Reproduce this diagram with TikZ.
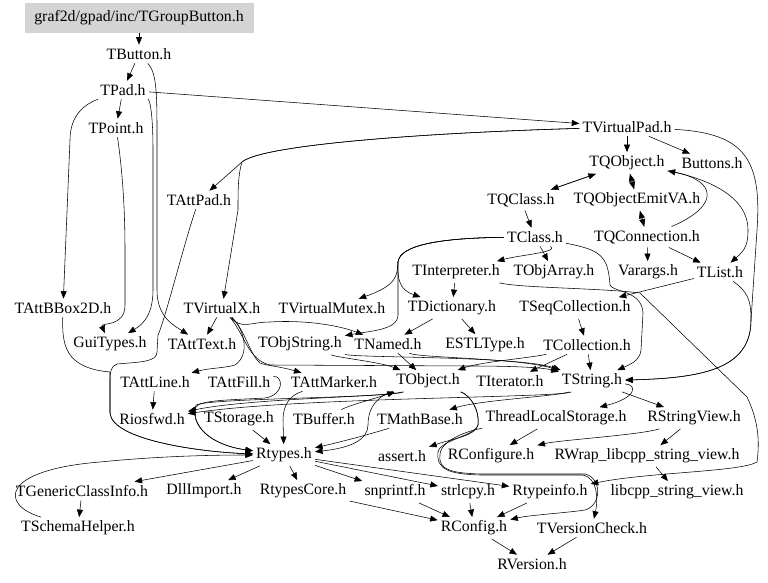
\documentclass[tikz,border=0pt]{standalone}
\usepackage{fontspec}
\setmainfont{Liberation Serif}
\usetikzlibrary{arrows.meta}
\begin{document}
\begin{tikzpicture}[x=1pt,y=-1pt,
  n/.style={inner xsep=3pt,inner ysep=3.5pt,font=\fontsize{15.8}{17}\selectfont},
  e/.style={draw,line width=0.55pt,-{Triangle[length=7.5pt,width=6pt]}}]
\useasboundingbox (0,0) rectangle (768,583);
% nodes
\node[n,fill=black!17,minimum width=229pt,minimum height=30pt,inner sep=0pt] (root) at (139,18) {graf2d/gpad/inc/TGroupButton.h};
\node[n] (tbutton) at (139,54) {TButton.h};
\node[n] (tpad) at (123,90) {TPad.h};
\node[n] (tpoint) at (116,128) {TPoint.h};
\node[n] (tvpad) at (627,127) {TVirtualPad.h};
\node[n] (tqobj) at (627,163) {TQObject.h};
\node[n] (buttons) at (712,163) {Buttons.h};
\node[n] (tattpad) at (199,200) {TAttPad.h};
\node[n] (tqclass) at (521,200) {TQClass.h};
\node[n] (tqemit) at (637,200) {TQObjectEmitVA.h};
\node[n] (tclass) at (535,237) {TClass.h};
\node[n] (tqconn) at (647,237) {TQConnection.h};
\node[n] (tinterp) at (456,272) {TInterpreter.h};
\node[n] (tobjarr) at (554,272) {TObjArray.h};
\node[n] (varargs) at (648,272) {Varargs.h};
\node[n] (tlist) at (720,272) {TList.h};
\node[n] (tattbbox) at (63,308) {TAttBBox2D.h};
\node[n] (tvx) at (222,308) {TVirtualX.h};
\node[n] (tvmutex) at (332,308) {TVirtualMutex.h};
\node[n] (tdict) at (452,308) {TDictionary.h};
\node[n] (tseqcoll) at (575,308) {TSeqCollection.h};
\node[n] (guitypes) at (110,344) {GuiTypes.h};
\node[n] (tatttext) at (202,344) {TAttText.h};
\node[n] (tobjstr) at (300,344) {TObjString.h};
\node[n] (tnamed) at (388,344) {TNamed.h};
\node[n] (estl) at (485,345) {ESTLType.h};
\node[n] (tcoll) at (587,345) {TCollection.h};
\node[n] (tattline) at (155,382) {TAttLine.h};
\node[n] (tattfill) at (239,382) {TAttFill.h};
\node[n] (tattmarker) at (334,382) {TAttMarker.h};
\node[n] (tobject) at (428,381) {TObject.h};
\node[n] (titer) at (510,381) {TIterator.h};
\node[n] (tstring) at (592,381) {TString.h};
\node[n] (riosfwd) at (152,419) {Riosfwd.h};
\node[n] (tstorage) at (239,419) {TStorage.h};
\node[n] (tbuffer) at (324,419) {TBuffer.h};
\node[n] (tmath) at (420,419) {TMathBase.h};
\node[n] (tls) at (556,418) {ThreadLocalStorage.h};
\node[n] (rsv) at (694,418) {RStringView.h};
\node[n] (rtypes) at (284,455) {Rtypes.h};
\node[n] (assert) at (402,456) {assert.h};
\node[n] (rconfigure) at (491,456) {RConfigure.h};
\node[n] (rwrap) at (647,456) {RWrap\_libcpp\_string\_view.h};
\node[n] (tgci) at (82,491) {TGenericClassInfo.h};
\node[n] (dllimport) at (204,491) {DllImport.h};
\node[n] (rtypescore) at (303,491) {RtypesCore.h};
\node[n] (snprintf) at (395,492) {snprintf.h};
\node[n] (strlcpy) at (468,492) {strlcpy.h};
\node[n] (rtypeinfo) at (550,492) {Rtypeinfo.h};
\node[n] (libcpp) at (677,492) {libcpp\_string\_view.h};
\node[n] (tschema) at (78,528) {TSchemaHelper.h};
\node[n] (rconfig) at (474,528) {RConfig.h};
\node[n] (tvcheck) at (592,528) {TVersionCheck.h};
\node[n] (rversion) at (532,564) {RVersion.h};
% edges
\draw[e] (root) -- (tbutton);
\draw[e] (tbutton) -- (tpad);
\draw[e] (tbutton) .. controls (156,72) and (157,90) .. (157,130) -- (157,290) .. controls (157,318) and (175,326) .. (tatttext);
\draw[e] (tpad) .. controls (150,100) and (153,115) .. (153,150) -- (153,290) .. controls (153,318) and (140,326) .. (guitypes);
\draw[e] (tpad) -- (tpoint);
\draw[e] (tpad) -- (tvpad);
\draw[e] (tpad) .. controls (85,104) and (70,115) .. (70,140) -- (tattbbox);
\draw[e] (tpoint) .. controls (121,160) and (125,200) .. (125,250) -- (125,305) .. controls (125,328) and (100,322) .. (guitypes);
\draw[e] (tvpad) .. controls (420,133) and (262,145) .. (242,162) -- (tattpad);
\draw[e] (tvpad) .. controls (420,133) and (262,145) .. (242,162) .. controls (238,175) and (238,190) .. (238,210) -- (tvx);
\draw[e] (tvpad) -- (tqobj);
\draw[e] (tvpad) -- (buttons);
\draw[e] (tvpad) .. controls (745,133) and (762,160) .. (757,230) -- (751,320) .. controls (751,370) and (700,378) .. (tstring);
\draw[e] (tlist) .. controls (748,292) and (751,300) .. (751,320) .. controls (751,370) and (700,378) .. (tstring);
\draw[e] (tqobj) -- (tqclass);
\draw[e] (tqclass) -- (tqobj);
\draw[e] (tqobj) -- (tqemit);
\draw[e] (tqemit) -- (tqobj);
\draw[e] (tqemit) -- (tqconn);
\draw[e] (tqconn) -- (tqemit);
\draw[e] (tqclass) -- (tclass);
\draw[e] (tqconn) -- (varargs);
\draw[e] (tqconn) -- (tlist);
\draw[e] (tqconn) .. controls (722,205) and (715,180) .. (tqobj);
\draw[e] (tqobj) .. controls (705,178) and (748,195) .. (748,230) .. controls (748,245) and (745,250) .. (tlist);
\draw[e] (tclass) .. controls (560,252) and (520,255) .. (tinterp);
\draw[e] (tclass) -- (tobjarr);
\draw[e] (tclass) .. controls (600,250) and (608,255) .. (610,285) .. controls (612,292) and (642,290) .. (643,313) -- (641,350) .. controls (640,358) and (636,362) .. (tstring);
\draw[e] (tinterp) .. controls (520,288) and (600,288) .. (640,293) -- (747,397) .. controls (758,420) and (760,440) .. (757,462) .. controls (740,472) and (650,472) .. (rtypeinfo);
\draw[e] (tlist) -- (tseqcoll);
\draw[e] (tclass) .. controls (440,238) and (400,245) .. (398,262) .. controls (397,275) and (398,285) .. (tvmutex);
\draw[e] (tclass) .. controls (440,238) and (400,245) .. (398,262) .. controls (397,280) and (400,290) .. (tdict);
\draw[e] (tclass) .. controls (440,238) and (400,245) .. (398,262) -- (398,315) .. controls (398,330) and (370,331) .. (tobjstr);
\draw[e] (tinterp) -- (tdict);
\draw[e] (tdict) -- (tnamed);
\draw[e] (tdict) -- (estl);
\draw[e] (tseqcoll) -- (tcoll);
\draw[e] (tvx) -- (tatttext);
\draw[e] (tvx) .. controls (242,330) and (250,322) .. (270,322) .. controls (300,320) and (335,324) .. (tnamed);
\draw[e] (tvx) .. controls (245,330) and (250,355) .. (235,365) .. controls (225,368) and (210,368) .. (tattline);
\draw[e] (tvx) .. controls (245,330) and (250,355) .. (260,363) .. controls (268,366) and (278,366) .. (tattmarker);
\draw[e] (tvx) .. controls (245,335) and (248,360) .. (270,365) -- (470,366) .. controls (520,366) and (545,368) .. (tstring);
\draw[e] (tattpad) .. controls (185,240) and (165,320) .. (158,335) -- (157,352) .. controls (157,362) and (140,362) .. (117,364) .. controls (111,366) and (110,372) .. (110,380) -- (110,413) .. controls (112,440) and (200,452) .. (rtypes);
\draw[e] (tattbbox) .. controls (62,345) and (65,368) .. (110,372) -- (110,413) .. controls (112,440) and (200,452) .. (rtypes);
\draw[e] (tschema) .. controls (0,505) and (0,470) .. (100,462) .. controls (150,457) and (200,455) .. (rtypes);
\draw[e] (tgci) -- (tschema);
\draw[e] (rtypes) -- (tgci);
\draw[e] (rtypes) -- (dllimport);
\draw[e] (rtypes) -- (rtypescore);
\draw[e] (rtypes) -- (snprintf);
\draw[e] (rtypes) -- (strlcpy);
\draw[e] (rtypes) -- (rtypeinfo);
\draw[e] (rtypescore) -- (rconfig);
\draw[e] (snprintf) -- (rconfig);
\draw[e] (strlcpy) -- (rconfig);
\draw[e] (rtypeinfo) -- (rconfig);
\draw[e] (rconfig) -- (rversion);
\draw[e] (tvcheck) -- (rversion);
\draw[e] (tnamed) -- (tobject);
\draw[e] (tobjstr) .. controls (340,358) and (380,362) .. (tobject);
\draw[e] (tobjstr) .. controls (360,358) and (520,356) .. (tstring);
\draw[e] (tnamed) .. controls (420,358) and (520,358) .. (tstring);
\draw[e] (tcoll) .. controls (530,358) and (480,362) .. (tobject);
\draw[e] (tcoll) -- (titer);
\draw[e] (tcoll) -- (tstring);
\draw[e] (tattline) -- (riosfwd);
\draw[e] (tobject) .. controls (390,397) and (250,398) .. (riosfwd);
\draw[e] (tstring) .. controls (560,398) and (300,397) .. (riosfwd);
\draw[e] (tattfill) .. controls (283,375) and (285,395) .. (265,398) .. controls (230,400) and (200,400) .. (196,407) .. controls (190,425) and (210,445) .. (rtypes);
\draw[e] (tobject) .. controls (390,398) and (210,398) .. (196,405) .. controls (190,425) and (210,445) .. (rtypes);
\draw[e] (tattmarker) .. controls (290,395) and (283,405) .. (283,420) -- (rtypes);
\draw[e] (tbuffer) .. controls (350,405) and (370,400) .. (tobject);
\draw[e] (tstorage) -- (rtypes);
\draw[e] (tmath) .. controls (360,437) and (340,442) .. (rtypes);
\draw[e] (tobject) .. controls (380,395) and (368,405) .. (368,425) .. controls (368,440) and (350,448) .. (rtypes);
\draw[e] (tstring) .. controls (560,396) and (480,400) .. (tmath);
\draw[e] (tstring) .. controls (638,385) and (636,398) .. (tls);
\draw[e] (tstring) -- (rsv);
\draw[e] (tls) -- (rconfigure);
\draw[e] (rsv) .. controls (640,435) and (560,440) .. (rconfigure);
\draw[e] (rsv) -- (rwrap);
\draw[e] (rwrap) -- (libcpp);
\draw[e] (tobject) .. controls (470,395) and (480,410) .. (478,425) .. controls (475,436) and (455,438) .. (assert);
\draw[e] (tobject) .. controls (470,395) and (480,410) .. (478,425) .. controls (475,436) and (440,440) .. (438,452) .. controls (436,470) and (450,474) .. (480,475) -- (582,475) .. controls (598,477) and (598,500) .. (tvcheck);
\draw[e] (tls) .. controls (470,430) and (440,440) .. (440,455) .. controls (438,470) and (452,473) .. (480,474) -- (585,474) .. controls (602,478) and (602,505) .. (585,510) .. controls (565,513) and (530,515) .. (rconfig);
\end{tikzpicture}
\end{document}
